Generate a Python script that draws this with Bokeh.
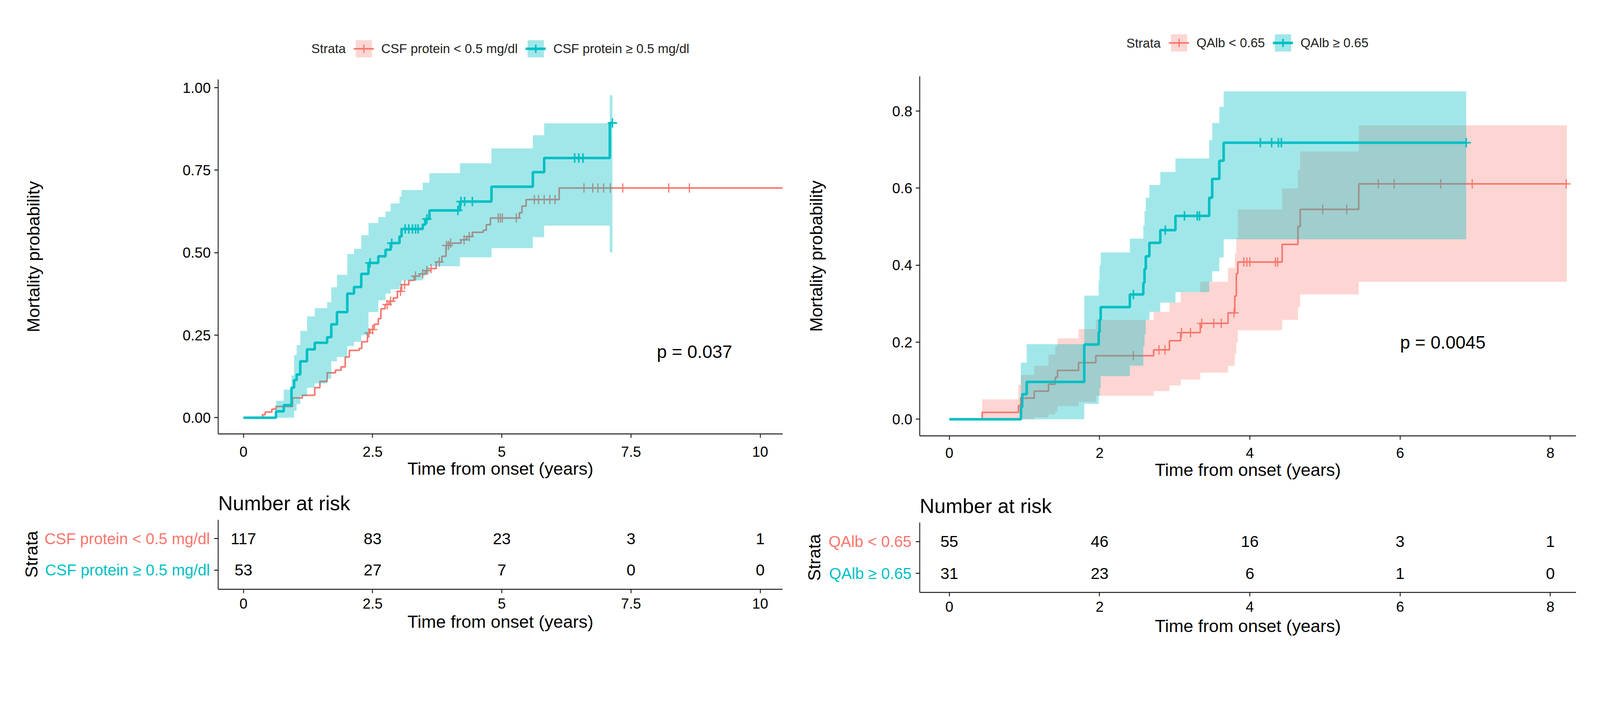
import numpy as np
from bokeh.plotting import figure
from bokeh.models import Range1d, FixedTicker, Legend, LegendItem, Label
from bokeh.layouts import row, column
from bokeh.embed import file_html
from bokeh.resources import INLINE
from bokeh.core.properties import value

SALMON = "#F8766D"
TEAL = "#00BFC4"
FONT = "Liberation Sans"

# ====================== Panel A : CSF protein ======================
a_strata = ["CSF protein < 0.5 mg/dl", "CSF protein \u2265 0.5 mg/dl"]
a1_time = [0.37, 0.42, 0.55, 0.63, 0.95, 1.14, 1.38, 1.48, 1.62, 1.78, 1.89, 1.97, 2.05, 2.24, 2.29,
           2.40, 2.45, 2.53, 2.61, 2.66, 2.74, 2.82, 2.90, 2.98, 3.06, 3.20, 3.30, 3.41, 3.52, 3.63,
           3.73, 3.84, 3.92, 4.00, 4.21, 4.32, 4.43, 4.64, 4.70, 4.78, 5.34, 5.39, 5.47, 6.11]
a1_prob = [0.009, 0.017, 0.026, 0.034, 0.060, 0.068, 0.091, 0.110, 0.136, 0.144, 0.154, 0.184, 0.204, 0.210, 0.230,
           0.257, 0.267, 0.283, 0.300, 0.330, 0.343, 0.353, 0.363, 0.383, 0.403, 0.416, 0.429, 0.436, 0.446, 0.452,
           0.472, 0.489, 0.522, 0.529, 0.539, 0.549, 0.562, 0.568, 0.585, 0.605, 0.621, 0.641, 0.661, 0.696]
a1_end = 10.45
a1_cens = [2.43, 2.50, 2.78, 2.85, 3.04, 3.12, 3.33, 3.47, 3.55, 3.63, 3.79, 3.93, 3.97, 4.01, 4.27, 4.37,
           4.93, 4.97, 5.01, 5.28, 5.63, 5.71, 5.82, 5.93, 6.03, 6.59, 6.76, 6.86, 6.97, 7.10, 7.34, 8.23, 8.63]
a2_time = [0.63, 0.78, 0.93, 0.98, 1.03, 1.10, 1.23, 1.38, 1.62, 1.70, 1.81, 2.01, 2.14, 2.28, 2.42,
           2.61, 2.75, 2.85, 3.02, 3.06, 3.47, 3.52, 3.60, 4.19, 4.80, 5.60, 5.82, 7.09]
a2_prob = [0.019, 0.038, 0.091, 0.114, 0.131, 0.171, 0.207, 0.227, 0.244, 0.283, 0.320, 0.376, 0.396, 0.436, 0.469,
           0.489, 0.509, 0.529, 0.549, 0.572, 0.585, 0.602, 0.628, 0.655, 0.700, 0.744, 0.787, 0.893]
a2_low = [0.0, 0.0, 0.0, 0.021, 0.041, 0.065, 0.091, 0.104, 0.118, 0.171, 0.184, 0.217, 0.230, 0.250, 0.320,
          0.356, 0.376, 0.389, 0.400, 0.416, 0.429, 0.435, 0.459, 0.486, 0.514, 0.547, 0.582, 0.501]
a2_up = [0.051, 0.085, 0.128, 0.190, 0.220, 0.263, 0.307, 0.332, 0.350, 0.395, 0.433, 0.496, 0.512, 0.553, 0.590,
         0.608, 0.625, 0.649, 0.670, 0.690, 0.712, 0.712, 0.741, 0.771, 0.816, 0.856, 0.892, 0.977]
a2_end = 7.14
a2_cens = [2.45, 2.87, 3.13, 3.20, 3.27, 3.33, 3.38, 3.55, 4.15, 4.21, 4.28, 4.43, 6.41, 6.49, 6.57, 7.14]
a_risk_time = [0, 2.5, 5, 7.5, 10]
a_risk_1 = [117, 83, 23, 3, 1]
a_risk_2 = [53, 27, 7, 0, 0]
a_xticks = [0, 2.5, 5, 7.5, 10]
a_xlabels = ["0", "2.5", "5", "7.5", "10"]
a_yticks = [0, 0.25, 0.5, 0.75, 1.0]
a_ylabels = ["0.00", "0.25", "0.50", "0.75", "1.00"]
a_pval = "p = 0.037"

# ====================== Panel B : QAlb ======================
b_strata = ["QAlb < 0.65", "QAlb \u2265 0.65"]
b1_time = [0.437, 0.92, 0.95, 1.13, 1.32, 1.41, 1.44, 1.72, 1.95, 2.72, 2.93, 3.08, 3.34, 3.71, 3.80,
           3.82, 3.84, 4.43, 4.64, 4.67, 5.45]
b1_prob = [0.018, 0.036, 0.055, 0.073, 0.091, 0.109, 0.127, 0.147, 0.165, 0.180, 0.204, 0.225, 0.249, 0.276, 0.320,
           0.378, 0.408, 0.454, 0.500, 0.545, 0.611]
b1_low = [0.0, 0.0, 0.0, 0.005, 0.013, 0.020, 0.034, 0.045, 0.061, 0.073, 0.088, 0.103, 0.121, 0.139, 0.170,
          0.200, 0.231, 0.258, 0.291, 0.324, 0.357]
b1_up = [0.052, 0.090, 0.115, 0.139, 0.168, 0.190, 0.210, 0.234, 0.258, 0.279, 0.303, 0.330, 0.357, 0.393, 0.430,
         0.470, 0.545, 0.599, 0.647, 0.695, 0.763]
b1_end = 8.22
b1_cens = [2.45, 2.79, 2.87, 3.09, 3.21, 3.36, 3.52, 3.62, 3.79, 3.92, 3.96, 4.00, 4.34, 4.37,
           4.97, 5.29, 5.71, 5.92, 6.54, 6.96, 8.21]
b2_time = [0.953, 0.97, 1.03, 1.796, 1.988, 2.0, 2.015, 2.403, 2.582, 2.598, 2.615, 2.663, 2.808, 3.010,
           3.459, 3.499, 3.594, 3.651]
b2_prob = [0.032, 0.065, 0.097, 0.194, 0.226, 0.258, 0.291, 0.324, 0.354, 0.390, 0.423, 0.458, 0.491, 0.528,
           0.575, 0.624, 0.671, 0.718]
b2_low = [0.0, 0.0, 0.0, 0.040, 0.060, 0.080, 0.112, 0.139, 0.190, 0.220, 0.258, 0.279, 0.303, 0.330,
          0.357, 0.384, 0.420, 0.467]
b2_up = [0.147, 0.147, 0.195, 0.321, 0.360, 0.400, 0.433, 0.469, 0.503, 0.540, 0.575, 0.608, 0.642, 0.677,
         0.725, 0.769, 0.811, 0.851]
b2_end = 6.88
b2_cens = [2.45, 2.875, 3.13, 3.30, 3.33, 4.14, 4.29, 4.38, 4.42, 6.88]
b_risk_time = [0, 2, 4, 6, 8]
b_risk_1 = [55, 46, 16, 3, 1]
b_risk_2 = [31, 23, 6, 1, 0]
b_xticks = [0, 2, 4, 6, 8]
b_xlabels = ["0", "2", "4", "6", "8"]
b_yticks = [0, 0.2, 0.4, 0.6, 0.8]
b_ylabels = ["0.0", "0.2", "0.4", "0.6", "0.8"]
b_pval = "p = 0.0045"


def step_value(t_ev, y_ev, tq):
    idx = np.searchsorted(np.asarray(t_ev), np.asarray(tq), side="right") - 1
    return [float(y_ev[i]) if i >= 0 else 0.0 for i in idx]


def add_band(p, t, lo, hi, t_end, color, alpha):
    x = list(t) + [t_end]
    y1 = list(lo) + [lo[-1]]
    y2 = list(hi) + [hi[-1]]
    if hasattr(p, "varea_step"):
        return p.varea_step(x=x, y1=y1, y2=y2, step_mode="after",
                            fill_color=color, fill_alpha=alpha)
    xs, a, b = [], [], []
    for i in range(len(x) - 1):
        xs += [x[i], x[i + 1]]
        a += [y1[i], y1[i]]
        b += [y2[i], y2[i]]
    return p.varea(x=xs, y1=a, y2=b, fill_color=color, fill_alpha=alpha)


def style_axis(ax):
    ax.axis_line_width = 2.3
    ax.axis_line_color = "#1a1a1a"
    ax.major_tick_line_width = 2.3
    ax.major_tick_line_color = "#1a1a1a"
    ax.major_tick_in = 0
    ax.major_tick_out = 10
    ax.minor_tick_line_color = None
    ax.major_label_text_font = FONT
    ax.major_label_text_font_size = "37px"
    ax.major_label_text_color = "black"
    ax.axis_label_text_font = FONT
    ax.axis_label_text_font_size = "45px"
    ax.axis_label_text_font_style = "normal"
    ax.axis_label_text_color = "black"


def blank_fig(w, h, xr, yr, bt, bb):
    f = figure(width=w, height=h, x_range=xr, y_range=yr, output_backend="svg",
               toolbar_location=None, x_axis_location=None, y_axis_location=None,
               min_border_left=0, min_border_right=0, min_border_top=bt, min_border_bottom=bb)
    f.outline_line_color = None
    f.grid.visible = False
    return f


def build(strata, s1, s2, risk_t, risk1, risk2, xt, xl, yt, yl, pval, L):
    yr = Range1d(*L["yr"])
    p = figure(width=L["main_w"], height=L["h_main"], x_range=Range1d(*L["xr"]), y_range=yr,
               output_backend="svg", toolbar_location=None,
               min_border_left=L["bl"], min_border_right=L["br"], min_border_top=0,
               min_border_bottom=L["bb"], x_axis_label="Time from onset (years)")
    p.outline_line_color = None
    p.xgrid.visible = False
    p.ygrid.visible = False

    items = []
    for (st, col, lw, clw), s in zip([(strata[0], SALMON, 4, 3), (strata[1], TEAL, 6.5, 4)], [s1, s2]):
        if s["low"] is not None:
            band = add_band(p, s["time"], s["low"], s["up"], s["end"], col, s["alpha"])
        else:
            # no confidence band drawn for this stratum in the figure: zero-height band, legend key only
            band = add_band(p, s["time"], s["prob"], s["prob"], s["end"], col, s["alpha"])
        line = p.step(x=[0] + list(s["time"]) + [s["end"]],
                      y=[0] + list(s["prob"]) + [s["prob"][-1]],
                      mode="after", line_color=col, line_width=lw)
        cy = step_value(s["time"], s["prob"], s["cens"])
        cens = p.scatter(x=s["cens"], y=cy, marker="cross", size=24,
                         line_color=col, line_width=clw)
        items.append(LegendItem(label=st, renderers=[band, line, cens]))

    legend = Legend(items=items, orientation="horizontal", location=L["leg_loc"],
                    padding=0, spacing=20, label_standoff=19, glyph_width=52, glyph_height=55,
                    margin=0, label_text_font=FONT, label_text_font_size="33px",
                    label_text_color="#222222", border_line_alpha=0, background_fill_alpha=0)
    p.add_layout(legend)
    p.add_layout(Label(x=L["leg_title"][0], y=L["leg_title"][1], text="Strata",
                       text_font=FONT, text_font_size="33px", text_color="#222222",
                       text_align="left", text_baseline="middle"))
    p.add_layout(Label(x=L["pv"][0], y=L["pv"][1], text=pval, text_font=FONT,
                       text_font_size="46px", text_color="black",
                       text_align="left", text_baseline="middle"))

    style_axis(p.xaxis[0])
    style_axis(p.yaxis[0])
    p.xaxis.ticker = FixedTicker(ticks=xt)
    p.xaxis.major_label_overrides = {t: l for t, l in zip(xt, xl)}
    p.yaxis.ticker = FixedTicker(ticks=yt)
    p.yaxis.major_label_overrides = {t: l for t, l in zip(yt, yl)}
    p.yaxis.bounds = L["ybounds"]
    p.xaxis.major_label_standoff = L["xls"]
    p.xaxis.axis_label_standoff = L["xals"]
    p.yaxis.major_label_standoff = 9

    # y-axis title, centred on the bounded axis
    ylab = blank_fig(L["ylab_w"], L["h_main"], Range1d(0, L["ylab_w"]), yr, 0, L["bb"])
    ymid = 0.5 * (L["ybounds"][0] + L["ybounds"][1])
    ylab.text(x=[L["ylab_x"]], y=[ymid], text=["Mortality probability"], angle=np.pi / 2,
              text_align="center", text_baseline="middle", text_font=value(FONT),
              text_font_size="45px", text_color="black")

    # ---- risk table
    ryr = Range1d(*L["ryr"])
    risk_w = L["ylab_w"] + L["main_w"] - L["lab_w"]
    r = figure(width=risk_w, height=L["h_risk"], x_range=Range1d(*L["xr"]),
               y_range=ryr, output_backend="svg", toolbar_location=None,
               min_border_left=L["bl"] + L["ylab_w"] - L["lab_w"], min_border_right=L["br"],
               min_border_top=L["rbt"], min_border_bottom=L["rbb"], title="Number at risk",
               x_axis_label="Time from onset (years)")
    r.title.text_font = FONT
    r.title.text_font_size = "52px"
    r.title.text_font_style = "normal"
    r.title.text_color = "black"
    r.title.align = "left"
    r.title.standoff = 27
    r.outline_line_color = None
    r.xgrid.visible = False
    r.ygrid.visible = False
    xs = list(risk_t) + list(risk_t)
    ys = [1] * len(risk_t) + [2] * len(risk_t)
    tx = [str(v) for v in risk1] + [str(v) for v in risk2]
    r.text(x=xs, y=ys, text=tx, text_align="center", text_baseline="middle",
           text_font=value(FONT), text_font_size="41px", text_color="black")
    style_axis(r.xaxis[0])
    style_axis(r.yaxis[0])
    r.xaxis.ticker = FixedTicker(ticks=xt)
    r.xaxis.major_label_overrides = {t: l for t, l in zip(xt, xl)}
    r.xaxis.major_label_standoff = L["rxls"]
    r.xaxis.axis_label_standoff = L["rxals"]
    r.yaxis.ticker = FixedTicker(ticks=[1, 2])
    r.yaxis.major_label_overrides = {1: "", 2: ""}
    r.yaxis.major_label_standoff = 0

    # strata names (coloured tick labels) and "Strata" title of the risk table
    lab = blank_fig(L["lab_w"], L["h_risk"], Range1d(0, L["lab_w"]), ryr, L["rbt"], L["rbb"])
    lab.text(x=[L["lab_w"] - 1] * 2, y=[1, 2], text=list(strata), text_color=[SALMON, TEAL],
             text_align="right", text_baseline="middle", text_font=value(FONT),
             text_font_size="40px")
    lab.text(x=[L["strata_x"]], y=[1.5], text=["Strata"], angle=np.pi / 2,
             text_align="center", text_baseline="middle", text_font=value(FONT),
             text_font_size="45px", text_color="black")

    return column(row(ylab, p, spacing=0), row(lab, r, spacing=0), spacing=0)


LA = dict(ylab_w=458, main_w=1576, h_main=1236, h_risk=424, xr=(-0.489, 10.434), yr=(-0.0492, 1.2652),
          ybounds=(-0.0492, 1.025), bl=100, br=31, bb=125, leg_loc=(347, 959),
          leg_title=(1.314, 1.119), pv=(8.0, 0.2), xls=22, xals=2, ylab_x=84.5,
          lab_w=538, strata_x=80, ryr=(2.609, 0.402), rbt=95, rbb=151, rxls=13, rxals=5)
LB = dict(ylab_w=220, main_w=1827, h_main=1236, h_risk=424, xr=(-0.394, 8.341), yr=(-0.0431, 1.0878),
          ybounds=(-0.0431, 0.89), bl=100, br=47, bb=120, leg_loc=(638, 979),
          leg_title=(2.356, 0.9766), pv=(6.0, 0.2), xls=20, xals=2, ylab_x=55,
          lab_w=300, strata_x=50, ryr=(2.602, 0.398), rbt=102, rbb=143, rxls=13, rxals=8)

A1 = dict(time=a1_time, prob=a1_prob, low=None, up=None, end=a1_end, cens=a1_cens, alpha=0.3)
A2 = dict(time=a2_time, prob=a2_prob, low=a2_low, up=a2_up, end=a2_end, cens=a2_cens, alpha=0.37)
B1 = dict(time=b1_time, prob=b1_prob, low=b1_low, up=b1_up, end=b1_end, cens=b1_cens, alpha=0.3)
B2 = dict(time=b2_time, prob=b2_prob, low=b2_low, up=b2_up, end=b2_end, cens=b2_cens, alpha=0.37)

left = build(a_strata, A1, A2, a_risk_time, a_risk_1, a_risk_2, a_xticks, a_xlabels,
             a_yticks, a_ylabels, a_pval, LA)
right = build(b_strata, B1, B2, b_risk_time, b_risk_1, b_risk_2, b_xticks, b_xlabels,
              b_yticks, b_ylabels, b_pval, LB)
page = row(left, right, spacing=0)

open("out.html", "w").write(file_html(page, INLINE))
